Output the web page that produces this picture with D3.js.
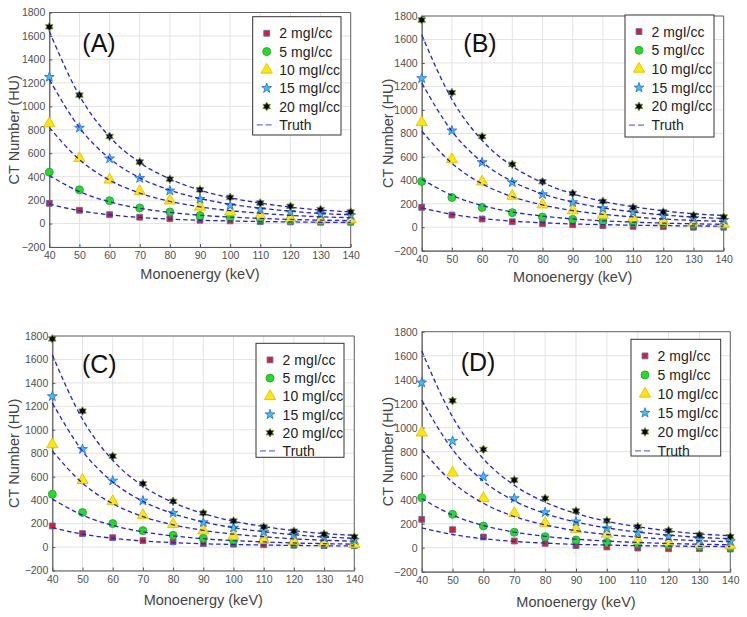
<!DOCTYPE html>
<html><head><meta charset="utf-8">
<script src="https://cdn.jsdelivr.net/npm/d3@7"></script>
<style>
body{margin:0;background:#fff}
svg{display:block}
text{font-family:Arial,"Liberation Sans",sans-serif}
</style>
</head><body>
<svg id="c" width="747" height="617"></svg>
<script>
// ---------------- DATA ----------------
const energies = [40, 50, 60, 70, 80, 90, 100, 110, 120, 130, 140];
const seriesLabels = ["2 mgI/cc", "5 mgI/cc", "10 mgI/cc", "15 mgI/cc", "20 mgI/cc"];
const truthLabel = "Truth";
const xTicks = [40, 50, 60, 70, 80, 90, 100, 110, 120, 130, 140];
const yTicks = [-200, 0, 200, 400, 600, 800, 1000, 1200, 1400, 1600, 1800];
const panelNames = ["(A)", "(B)", "(C)", "(D)"];
const xTitle = "Monoenergy (keV)";
const yTitle = "CT Number (HU)";

// truth curves (same in all panels)
const truth2  = [165, 110, 75, 52, 38, 28, 22, 17, 14, 11, 10];
const truth5  = [410, 272, 185, 130, 95, 71, 55, 44, 35, 29, 25];
const truth10 = [820, 545, 370, 260, 190, 142, 110, 88, 70, 58, 50];
const truth15 = [1230, 818, 555, 390, 285, 214, 165, 131, 105, 86, 75];
const truth20 = [1640, 1090, 740, 520, 380, 285, 220, 175, 140, 115, 100];

// measured points, panel A
const A2  = [172, 113, 76, 54, 42, 28, 23, 17, 14, 11, 11];
const A5  = [438, 288, 195, 133, 99, 68, 51, 40, 28, 23, 20];
const A10 = [853, 556, 373, 274, 195, 141, 99, 68, 45, 34, 34];
const A15 = [1249, 816, 554, 387, 280, 209, 155, 122, 98, 80, 70];
const A20 = [1678, 1096, 743, 525, 379, 288, 223, 175, 147, 119, 99];
// panel B
const B2  = [169, 104, 70, 47, 30, 22, 13, 7, 5, 0, 0];
const B5  = [390, 254, 169, 124, 87, 67, 53, 39, 33, 24, 19];
const B10 = [893, 578, 388, 266, 192, 141, 104, 75, 53, 39, 27];
const B15 = [1269, 823, 553, 382, 280, 212, 161, 127, 98, 75, 61];
const B20 = [1766, 1147, 772, 536, 388, 288, 220, 169, 130, 101, 87];
// panel C
const C2  = [180, 115, 80, 55, 45, 30, 25, 20, 15, 12, 12];
const C5  = [450, 295, 200, 140, 100, 75, 55, 55, 35, 29, 21];
const C10 = [875, 570, 390, 270, 195, 140, 95, 60, 50, 35, 24];
const C15 = [1285, 835, 565, 395, 290, 210, 165, 130, 105, 80, 60];
const C20 = [1775, 1160, 775, 540, 390, 290, 222, 172, 135, 110, 87];
// panel D (20 mgI/cc at 40 keV is off the chart)
const D2  = [236, 150, 89, 56, 36, 17, 6, -3, -8, -8, -11];
const D5  = [417, 278, 181, 128, 92, 64, 44, 36, 22, 14, 6];
const D10 = [958, 625, 411, 286, 203, 153, 114, 60, 44, 28, 19];
const D15 = [1375, 889, 592, 411, 294, 217, 161, 125, 92, 69, 53];
const D20 = [null, 1225, 819, 564, 411, 306, 225, 175, 142, 106, 92];

const truthSeries = [truth2, truth5, truth10, truth15, truth20];
const panelData = [[A2, A5, A10, A15, A20], [B2, B5, B10, B15, B20], [C2, C5, C10, C15, C20], [D2, D5, D10, D15, D20]];

// ---------------- LAYOUT / STYLE ----------------
const panels = [
  {x0: 49.3, x1: 350.7, y0: 12.5, y1: 247, lg: {x: 252.7, y: 16.7, w: 88.3, h: 118.3, dy: 18.3}, lab: {x: 99, y: 52}, xlabY: 279, ylabX: 18.5},
  {x0: 421.7, x1: 723.7, y0: 16, y1: 250.7, lg: {x: 625, y: 15, w: 89, h: 122, dy: 18.7}, lab: {x: 480, y: 52}, xlabY: 282, ylabX: 393},
  {x0: 52.3, x1: 354.3, y0: 336, y1: 570.5, lg: {x: 256, y: 343.3, w: 88, h: 114, dy: 18.2}, lab: {x: 99.3, y: 373}, xlabY: 605, ylabX: 18.5},
  {x0: 421.7, x1: 730.3, y0: 331.7, y1: 571.7, lg: {x: 631, y: 339.3, w: 89.7, h: 116.7, dy: 19}, lab: {x: 478, y: 371}, xlabY: 606.5, ylabX: 393}
];

const symbolHexagram = {
  draw(ctx, size) {
    const R = Math.sqrt(size) * 0.72, r = R / Math.sqrt(3);
    for (let i = 0; i < 12; i++) {
      const a = -Math.PI / 2 + i * Math.PI / 6;
      const rr = i % 2 === 0 ? R : r;
      const px = rr * Math.cos(a), py = rr * Math.sin(a);
      if (i === 0) ctx.moveTo(px, py); else ctx.lineTo(px, py);
    }
    ctx.closePath();
  }
};
const markerStyles = [
  {type: d3.symbolSquare, size: 34, fill: "#e4192b", stroke: "#4a72b0"},
  {type: d3.symbolCircle, size: 50, fill: "#1fe01f", stroke: "#3d9a3d"},
  {type: d3.symbolTriangle, size: 55, fill: "#ffe800", stroke: "#e2c000"},
  {type: d3.symbolStar, size: 30, fill: "#2fc8f5", stroke: "#3b6fd6"},
  {type: symbolHexagram, size: 36, fill: "#000000", stroke: "#76952a"}
];

const svg = d3.select("#c");

panels.forEach((p, pi) => {
  const g = svg.append("g");
  const x = d3.scaleLinear().domain([40, 140]).range([p.x0, p.x1]);
  const y = d3.scaleLinear().domain([-200, 1800]).range([p.y1, p.y0]);

  // grid
  g.append("g").selectAll("line").data(xTicks).join("line")
    .attr("x1", d => x(d)).attr("x2", d => x(d)).attr("y1", p.y0).attr("y2", p.y1)
    .attr("stroke", "#e3e3e3").attr("stroke-width", 1);
  g.append("g").selectAll("line").data(yTicks).join("line")
    .attr("y1", d => y(d)).attr("y2", d => y(d)).attr("x1", p.x0).attr("x2", p.x1)
    .attr("stroke", "#e3e3e3").attr("stroke-width", 1);

  // box top/right
  g.append("line").attr("x1", p.x0).attr("x2", p.x1).attr("y1", p.y0).attr("y2", p.y0).attr("stroke", "#666");
  g.append("line").attr("x1", p.x1).attr("x2", p.x1).attr("y1", p.y0).attr("y2", p.y1).attr("stroke", "#666");

  // axes
  const fmt = d3.format("d");
  const xa = g.append("g").attr("transform", `translate(0,${p.y1})`)
    .call(d3.axisBottom(x).tickValues(xTicks).tickFormat(fmt).tickSizeInner(-3).tickSizeOuter(0).tickPadding(5));
  const ya = g.append("g").attr("transform", `translate(${p.x0},0)`)
    .call(d3.axisLeft(y).tickValues(yTicks).tickFormat(fmt).tickSizeInner(-3).tickSizeOuter(0).tickPadding(4));
  [xa, ya].forEach(a => {
    a.select(".domain").attr("stroke", "#555").attr("stroke-width", 1.2);
    a.selectAll(".tick line").attr("stroke", "#555");
    a.selectAll(".tick text").attr("fill", "#505050").style("font-size", "10.5px").style("font-family", "Arial,'Liberation Sans',sans-serif");
  });

  // axis titles
  g.append("text").attr("x", (p.x0 + p.x1) / 2).attr("y", p.xlabY).attr("text-anchor", "middle")
    .attr("fill", "#444").style("font-size", "14.5px").text(xTitle);
  g.append("text").attr("transform", `translate(${p.ylabX},${(p.y0 + p.y1) / 2}) rotate(-90)`)
    .attr("text-anchor", "middle").attr("fill", "#444").style("font-size", "14.5px").text(yTitle);

  // markers
  panelData[pi].forEach((vals, si) => {
    const st = markerStyles[si];
    const pts = energies.map((e, i) => ({e, v: vals[i]})).filter(d => d.v !== null && d.v <= 1800 && d.v >= -200);
    g.append("g").selectAll("path").data(pts).join("path")
      .attr("transform", d => `translate(${x(d.e)},${y(d.v)})`)
      .attr("d", d3.symbol().type(st.type).size(st.size))
      .attr("fill", st.fill).attr("stroke", st.stroke).attr("stroke-width", 0.9);
  });

  // truth curves
  const line = d3.line().x((d, i) => x(energies[i])).y(d => y(d)).curve(d3.curveMonotoneX);
  truthSeries.forEach(t => {
    g.append("path").attr("d", line(t)).attr("fill", "none")
      .attr("stroke", "#2323dc").attr("stroke-width", 1.3).attr("stroke-dasharray", "4.5,3");
  });

  // panel label
  g.append("text").attr("x", p.lab.x).attr("y", p.lab.y).attr("text-anchor", "middle")
    .attr("fill", "#111").style("font-size", "25px").text(panelNames[pi]);

  // legend
  const L = p.lg;
  g.append("rect").attr("x", L.x).attr("y", L.y).attr("width", L.w).attr("height", L.h)
    .attr("fill", "#fff").attr("stroke", "#333").attr("stroke-width", 1);
  seriesLabels.forEach((lab, si) => {
    const st = markerStyles[si];
    const cy = L.y + 16.6 + si * L.dy;
    g.append("path").attr("transform", `translate(${L.x + 14},${cy})`)
      .attr("d", d3.symbol().type(st.type).size(st.size))
      .attr("fill", st.fill).attr("stroke", st.stroke).attr("stroke-width", 0.9);
    g.append("text").attr("x", L.x + 26.6).attr("y", cy + 5).attr("fill", "#222")
      .style("font-size", "14px").text(lab);
  });
  const ty = L.y + 16.6 + 5 * L.dy;
  g.append("line").attr("x1", L.x + 4).attr("x2", L.x + 21).attr("y1", ty).attr("y2", ty)
    .attr("stroke", "#6b6bf5").attr("stroke-width", 1.3).attr("stroke-dasharray", "6,3");
  g.append("text").attr("x", L.x + 26.6).attr("y", ty + 5).attr("fill", "#222")
    .style("font-size", "14px").text(truthLabel);
});
</script>
</body></html>
